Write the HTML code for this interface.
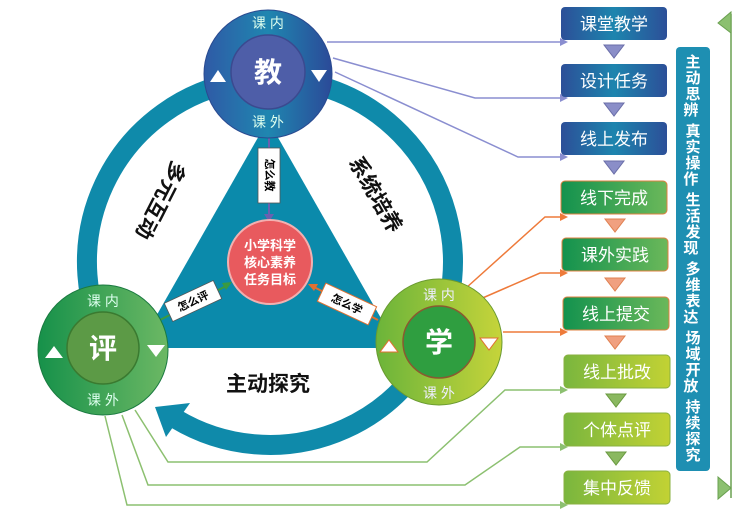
<!DOCTYPE html>
<html><head><meta charset="utf-8"><style>
html,body{margin:0;padding:0;background:#fff;width:754px;height:520px;overflow:hidden}
text{font-family:"Liberation Sans","Noto Sans CJK SC",sans-serif}
</style></head><body>
<svg width="754" height="520" viewBox="0 0 754 520" xmlns="http://www.w3.org/2000/svg">
<defs>
<linearGradient id="gb" x1="0" y1="0" x2="1" y2="0"><stop offset="0" stop-color="#2f5aa6"/><stop offset="0.5" stop-color="#1f86b0"/><stop offset="1" stop-color="#2b4a98"/></linearGradient>
<linearGradient id="gg" x1="0" y1="0" x2="1" y2="0"><stop offset="0" stop-color="#16914a"/><stop offset="1" stop-color="#6cb864"/></linearGradient>
<linearGradient id="gl" x1="0" y1="0" x2="1" y2="0"><stop offset="0" stop-color="#6bb43a"/><stop offset="1" stop-color="#c6d43a"/></linearGradient>
<linearGradient id="bb" x1="0" y1="0" x2="1" y2="0"><stop offset="0" stop-color="#2c4f98"/><stop offset="0.5" stop-color="#1d85ae"/><stop offset="1" stop-color="#2c4f98"/></linearGradient>
<linearGradient id="bg2" x1="0" y1="0" x2="1" y2="0"><stop offset="0" stop-color="#13924e"/><stop offset="1" stop-color="#6bb85a"/></linearGradient>
<linearGradient id="bl" x1="0" y1="0" x2="1" y2="0"><stop offset="0" stop-color="#7ab63e"/><stop offset="1" stop-color="#c2d234"/></linearGradient>
</defs>
<!-- big ring -->
<path d="M 111.5 353.5 A 183 183 0 1 1 175.7 418.8" fill="none" stroke="#0f8aaa" stroke-width="20"/>
<polygon points="155,407 166,437 190,403" fill="#0f8aaa"/>
<!-- triangle -->
<polygon points="268,120 138,348 398,348" fill="#0b8aab"/>
<!-- connectors -->
<g fill="none" stroke-width="1.5">
<polyline points="327,42 560,42" stroke="#8a8ed0"/>
<polyline points="333,58 475,98 560,98" stroke="#8a8ed0"/>
<polyline points="335,72 518,157 560,157" stroke="#8a8ed0"/>
<polyline points="466,288 545,217 560,217" stroke="#ee7a3a"/>
<polyline points="478,300 540,273 560,273" stroke="#ee7a3a"/>
<polyline points="503,332 560,332" stroke="#ee7a3a"/>
<polyline points="135,410 168,462 427,462 505,390 560,390" stroke="#8cc070"/>
<polyline points="122,415 148,485 465,485 520,447 560,447" stroke="#8cc070"/>
<polyline points="105,416 127,505 560,505" stroke="#8cc070"/>
</g>
<g>
<polygon points="560,38 568,42 560,46" fill="#8a8ed0"/><polygon points="560,94 568,98 560,102" fill="#8a8ed0"/><polygon points="560,153 568,157 560,161" fill="#8a8ed0"/>
<polygon points="560,213 568,217 560,221" fill="#ee7a3a"/><polygon points="560,269 568,273 560,277" fill="#ee7a3a"/><polygon points="560,328 568,332 560,336" fill="#ee7a3a"/>
<polygon points="560,386 568,390 560,394" fill="#8cc070"/><polygon points="560,443 568,447 560,451" fill="#8cc070"/><polygon points="560,501 568,505 560,509" fill="#8cc070"/>
</g>
<!-- rotated side labels -->
<text transform="translate(160,200) rotate(117)" font-size="21" font-weight="bold" fill="#111" text-anchor="middle" dominant-baseline="central">多元互动</text>
<text transform="translate(375,195) rotate(60)" font-size="21" font-weight="bold" fill="#111" text-anchor="middle" dominant-baseline="central">系统培养</text>
<text x="268" y="391" font-size="21" font-weight="bold" fill="#111" text-anchor="middle">主动探究</text>
<!-- small label boxes -->
<line x1="269" y1="137" x2="269" y2="218" stroke="#6a60b0" stroke-width="2"/>
<polygon points="264,214 274,214 269,222" fill="#6a60b0"/>
<rect x="258" y="148" width="22" height="55" fill="#fff" stroke="#555" stroke-width="0.8"/>
<text transform="translate(269,175) rotate(90)" font-size="11" font-weight="bold" text-anchor="middle" dominant-baseline="central">怎么教</text>
<line x1="160" y1="320" x2="228" y2="285" stroke="#3a9a40" stroke-width="2"/>
<polygon points="232,282 222,283 226,290" fill="#3a9a40"/>
<g transform="translate(193,301) rotate(-25)"><rect x="-27" y="-10" width="54" height="20" fill="#fff" stroke="#555" stroke-width="0.8"/><text font-size="11" font-weight="bold" text-anchor="middle" y="4">怎么评</text></g>
<line x1="378" y1="320" x2="312" y2="286" stroke="#e07030" stroke-width="2"/>
<polygon points="308,284 318,284 314,291" fill="#e07030"/>
<g transform="translate(347,304) rotate(25)"><rect x="-28" y="-10" width="56" height="20" fill="#fff" stroke="#e07030" stroke-width="1"/><text font-size="11" font-weight="bold" text-anchor="middle" y="4">怎么学</text></g>
<!-- center -->
<circle cx="270" cy="262" r="42" fill="#e85a5e" stroke="#f3b0b0" stroke-width="2"/>
<text x="270" y="250" font-size="13" fill="#fff" text-anchor="middle" font-weight="bold">小学科学</text>
<text x="270" y="267" font-size="13" fill="#fff" text-anchor="middle" font-weight="bold">核心素养</text>
<text x="270" y="284" font-size="13" fill="#fff" text-anchor="middle" font-weight="bold">任务目标</text>
<!-- 教 -->
<circle cx="268" cy="74" r="64" fill="url(#gb)" stroke="#2a4a90" stroke-width="1"/>
<circle cx="268" cy="72" r="37" fill="#4e5ea8" stroke="#3b4a90" stroke-width="1.5"/>
<text x="268" y="82" font-size="28" fill="#fff" text-anchor="middle" font-weight="bold">教</text>
<text x="268" y="28" font-size="14" fill="#dfe" text-anchor="middle">课 内</text>
<text x="268" y="127" font-size="14" fill="#dfe" text-anchor="middle">课 外</text>
<polygon points="210,82 226,82 218,70" fill="#fff"/><polygon points="311,70 327,70 319,82" fill="#fff"/>
<!-- 评 -->
<circle cx="103" cy="350" r="65" fill="url(#gg)" stroke="#1a7a40" stroke-width="1"/>
<circle cx="103" cy="348" r="36" fill="#5c9a46" stroke="#3a7a30" stroke-width="1.5"/>
<text x="103" y="358" font-size="28" fill="#fff" text-anchor="middle" font-weight="bold">评</text>
<text x="103" y="306" font-size="14" fill="#dfe" text-anchor="middle">课 内</text>
<text x="103" y="405" font-size="14" fill="#dfe" text-anchor="middle">课 外</text>
<polygon points="45,358 63,358 54,346" fill="#fff"/><polygon points="147,345 165,345 156,357" fill="#fff"/>
<!-- 学 -->
<circle cx="439" cy="342" r="63" fill="url(#gl)" stroke="#6a9a30" stroke-width="1"/>
<circle cx="439" cy="342" r="36" fill="#2f9e40" stroke="#8a5a30" stroke-width="1.5"/>
<text x="439" y="352" font-size="28" fill="#fff" text-anchor="middle" font-weight="bold">学</text>
<text x="439" y="300" font-size="14" fill="#eef" text-anchor="middle">课 内</text>
<text x="439" y="398" font-size="14" fill="#eef" text-anchor="middle">课 外</text>
<polygon points="380,352 398,352 389,340" fill="#fff" stroke="#e07030"/><polygon points="480,338 498,338 489,350" fill="#fff" stroke="#e07030"/>
<!-- right boxes -->
<g font-size="17" fill="#fff" text-anchor="middle">
<rect x="561" y="7" width="106" height="33" rx="4" fill="url(#bb)"/><text x="614" y="30">课堂教学</text>
<rect x="561" y="64" width="106" height="33" rx="4" fill="url(#bb)"/><text x="614" y="87">设计任务</text>
<rect x="561" y="122" width="106" height="33" rx="4" fill="url(#bb)"/><text x="614" y="145">线上发布</text>
<rect x="561" y="181" width="106" height="33" rx="4" fill="url(#bg2)" stroke="#e08040"/><text x="614" y="204">线下完成</text>
<rect x="562" y="238" width="106" height="33" rx="4" fill="url(#bg2)" stroke="#e08040"/><text x="615" y="261">课外实践</text>
<rect x="563" y="297" width="106" height="33" rx="4" fill="url(#bg2)" stroke="#e08040"/><text x="616" y="320">线上提交</text>
<rect x="564" y="355" width="106" height="33" rx="4" fill="url(#bl)" stroke="#8ab040"/><text x="617" y="378">线上批改</text>
<rect x="564" y="413" width="106" height="33" rx="4" fill="url(#bl)" stroke="#8ab040"/><text x="617" y="436">个体点评</text>
<rect x="564" y="471" width="106" height="33" rx="4" fill="url(#bl)" stroke="#8ab040"/><text x="617" y="494">集中反馈</text>
</g>
<g stroke-width="1">
<polygon points="604,45 624,45 614,58" fill="#8a8ec8" stroke="#6a6ea8"/>
<polygon points="604,103 624,103 614,116" fill="#8a8ec8" stroke="#6a6ea8"/>
<polygon points="604,161 624,161 614,174" fill="#8a8ec8" stroke="#6a6ea8"/>
<polygon points="605,219 625,219 615,232" fill="#f0a080" stroke="#e08050"/>
<polygon points="605,278 625,278 615,291" fill="#f0a080" stroke="#e08050"/>
<polygon points="605,336 625,336 615,349" fill="#f0a080" stroke="#e08050"/>
<polygon points="606,394 626,394 616,407" fill="#8ab860" stroke="#6a9a40"/>
<polygon points="606,452 626,452 616,465" fill="#8ab860" stroke="#6a9a40"/>
</g>
<!-- vertical bar -->
<rect x="676" y="47" width="34" height="424" rx="4" fill="#1e8fb2"/>
<text font-size="15" font-weight="bold" fill="#fff" text-anchor="middle">
<tspan x="693" y="67">主</tspan><tspan x="693" y="83">动</tspan><tspan x="693" y="99">思</tspan><tspan x="693" y="115">辨</tspan>
<tspan x="693" y="136">真</tspan><tspan x="693" y="152">实</tspan><tspan x="693" y="168">操</tspan><tspan x="693" y="184">作</tspan>
<tspan x="693" y="205">生</tspan><tspan x="693" y="221">活</tspan><tspan x="693" y="237">发</tspan><tspan x="693" y="253">现</tspan>
<tspan x="693" y="274">多</tspan><tspan x="693" y="290">维</tspan><tspan x="693" y="306">表</tspan><tspan x="693" y="322">达</tspan>
<tspan x="693" y="343">场</tspan><tspan x="693" y="359">域</tspan><tspan x="693" y="375">开</tspan><tspan x="693" y="391">放</tspan>
<tspan x="693" y="412">持</tspan><tspan x="693" y="428">续</tspan><tspan x="693" y="444">探</tspan><tspan x="693" y="460">究</tspan>
</text>
<!-- bracket -->
<line x1="731" y1="14" x2="731" y2="498" stroke="#6aa050" stroke-width="1.5"/>
<polygon points="718,23 731,12 731,33" fill="#8cc070" stroke="#6aa050"/>
<polygon points="718,477 731,488 718,499" fill="#8cc070" stroke="#6aa050"/>
</svg>
</body></html>
